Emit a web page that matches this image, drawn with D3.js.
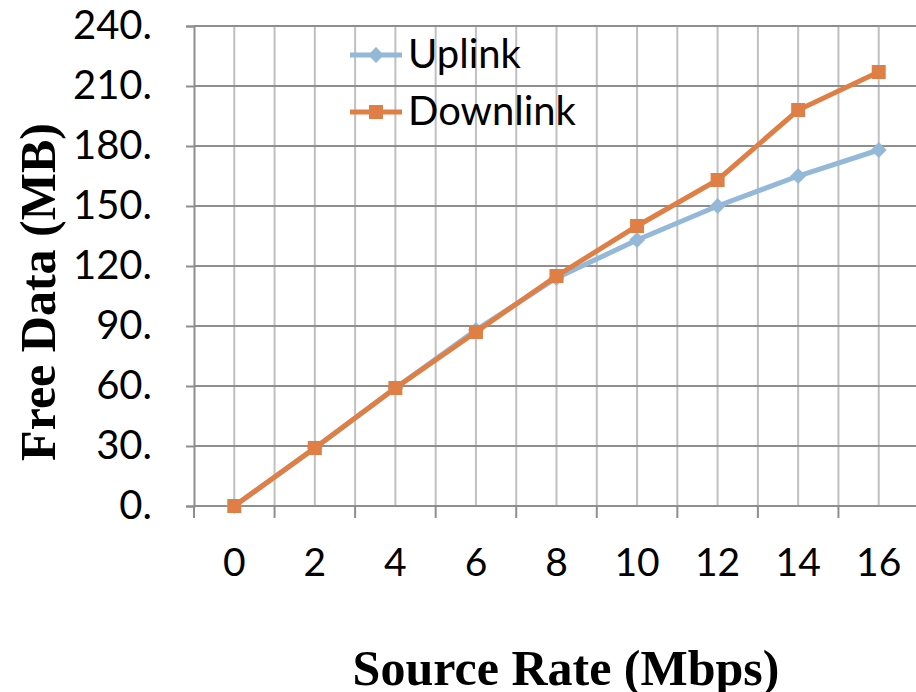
<!DOCTYPE html>
<html>
<head>
<meta charset="utf-8">
<script src="https://cdn.jsdelivr.net/npm/d3@7"></script>
<style>
  body { margin: 0; background: #fff; }
  svg { display: block; overflow: visible; }
</style>
</head>
<body>
<div id="chart-area"></div>
<script>
// Data
var categories = ["0", "2", "4", "6", "8", "10", "12", "14", "16"];
var uplink   = [0, 29, 59, 88, 114, 133, 150, 165, 178];
var downlink = [0, 29, 59, 87, 115, 140, 163, 198, 217];
var yTicks = [0, 30, 60, 90, 120, 150, 180, 210, 240];
var seriesNames = ["Uplink", "Downlink"];

// Canvas
var width = 916;
var height = 692;
var margin = { top: 26, right: -3, bottom: 186, left: 194 };
var innerWidth = width - margin.left - margin.right;
var innerHeight = height - margin.top - margin.bottom;

var blue = "#94b8d7";
var orange = "#df7f45";
var tickFont = "Lato, 'Noto Sans', sans-serif";
var titleFont = "'Liberation Serif', 'Times New Roman', serif";

var svg = d3.select("#chart-area")
    .append("svg")
    .attr("width", width)
    .attr("height", height);

var g = svg.append("g")
    .attr("transform", `translate(${margin.left}, ${margin.top})`);

// Scales
var x = d3.scaleBand()
    .domain(categories)
    .range([0, innerWidth])
    .padding(0);

var y = d3.scaleLinear()
    .domain([0, 240])
    .range([innerHeight, 0]);

var cx = d => x(d) + x.bandwidth() / 2;

// Vertical gridlines: category centers and boundaries
var vLines = [];
categories.forEach(c => {
    vLines.push(x(c));
    vLines.push(cx(c));
});

g.selectAll(".vgrid")
    .data(vLines.slice(1))
    .enter()
    .append("line")
    .attr("class", "vgrid")
    .attr("x1", d => d)
    .attr("x2", d => d)
    .attr("y1", 0)
    .attr("y2", innerHeight)
    .attr("stroke", "#c0c0c0")
    .attr("stroke-width", 2);

// Horizontal gridlines
g.selectAll(".hgrid")
    .data(yTicks)
    .enter()
    .append("line")
    .attr("class", "hgrid")
    .attr("x1", 0)
    .attr("x2", innerWidth)
    .attr("y1", d => y(d))
    .attr("y2", d => y(d))
    .attr("stroke", "#8e8e8e")
    .attr("stroke-width", 2);

// Y axis
var yAxis = g.append("g")
    .call(d3.axisLeft(y).tickValues(yTicks).tickSize(8).tickPadding(34).tickFormat(d => d + "."));
yAxis.select(".domain").attr("stroke", "#8e8e8e").attr("stroke-width", 2);
yAxis.selectAll(".tick line").attr("stroke", "#8e8e8e").attr("stroke-width", 2);
yAxis.selectAll(".tick text")
    .attr("font-family", tickFont)
    .attr("font-size", "40px")
    .attr("fill", "#000");

// X axis: ticks at category boundaries
var xAxis = g.append("g")
    .attr("transform", `translate(0, ${innerHeight})`);
xAxis.selectAll(".xtick")
    .data(categories)
    .enter()
    .append("line")
    .attr("x1", d => x(d))
    .attr("x2", d => x(d))
    .attr("y1", 0)
    .attr("y2", 12)
    .attr("stroke", "#8e8e8e")
    .attr("stroke-width", 2);
xAxis.selectAll(".xlabel")
    .data(categories)
    .enter()
    .append("text")
    .attr("x", d => cx(d))
    .attr("y", 70)
    .attr("text-anchor", "middle")
    .attr("font-family", tickFont)
    .attr("font-size", "39px")
    .attr("fill", "#000")
    .text(d => d);

// Lines
var line = d3.line()
    .x((d, i) => cx(categories[i]))
    .y(d => y(d));

g.append("path")
    .datum(uplink)
    .attr("fill", "none")
    .attr("stroke", blue)
    .attr("stroke-width", 5)
    .attr("d", line);

g.selectAll(".up")
    .data(uplink)
    .enter()
    .append("path")
    .attr("d", d3.symbol().type(d3.symbolDiamond2).size(160))
    .attr("transform", (d, i) => `translate(${cx(categories[i])}, ${y(d)})`)
    .attr("fill", blue);

g.append("path")
    .datum(downlink)
    .attr("fill", "none")
    .attr("stroke", orange)
    .attr("stroke-width", 5)
    .attr("d", line);

g.selectAll(".down")
    .data(downlink)
    .enter()
    .append("rect")
    .attr("x", (d, i) => cx(categories[i]) - 7)
    .attr("y", d => y(d) - 7)
    .attr("width", 14)
    .attr("height", 14)
    .attr("fill", orange);

// Legend
var legend = svg.append("g").attr("transform", "translate(350, 55)");
seriesNames.forEach((name, i) => {
    var row = legend.append("g").attr("transform", `translate(0, ${i * 57})`);
    var col = i === 0 ? blue : orange;
    row.append("line")
        .attr("x1", 0).attr("x2", 52)
        .attr("y1", 0).attr("y2", 0)
        .attr("stroke", col)
        .attr("stroke-width", 5);
    if (i === 0) {
        row.append("path")
            .attr("d", d3.symbol().type(d3.symbolDiamond2).size(160))
            .attr("transform", "translate(26, 0)")
            .attr("fill", col);
    } else {
        row.append("rect")
            .attr("x", 19).attr("y", -7)
            .attr("width", 14).attr("height", 14)
            .attr("fill", col);
    }
    row.append("text")
        .attr("x", 58)
        .attr("y", 13)
        .attr("font-family", tickFont)
        .attr("font-size", "40px")
        .attr("fill", "#000")
        .text(name);
});

// Axis titles
svg.append("text")
    .attr("x", 566)
    .attr("y", 685)
    .attr("text-anchor", "middle")
    .attr("font-family", titleFont)
    .attr("font-weight", "bold")
    .attr("font-size", "50px")
    .attr("fill", "#000")
    .text("Source Rate (Mbps)");

svg.append("text")
    .attr("transform", "translate(55, 292) rotate(-90)")
    .attr("text-anchor", "middle")
    .attr("font-family", titleFont)
    .attr("font-weight", "bold")
    .attr("font-size", "50px")
    .attr("fill", "#000")
    .text("Free Data (MB)");
</script>
</body>
</html>
